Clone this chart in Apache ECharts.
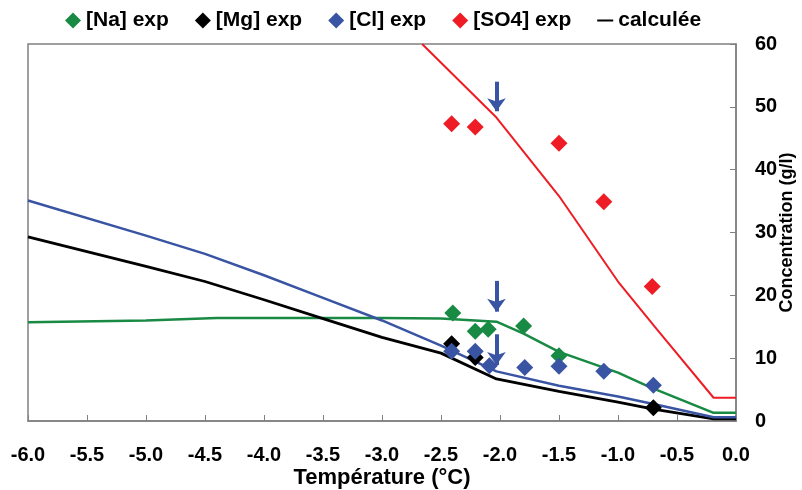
<!DOCTYPE html>
<html>
<head>
<meta charset="utf-8">
<script src="https://cdn.jsdelivr.net/npm/echarts@6.0.0/dist/echarts.min.js"></script>
<style>
  html, body { margin: 0; padding: 0; background: #fff; }
  #main { width: 802px; height: 490px; }
</style>
</head>
<body>
<div id="main"></div>
<script>
// points expérimentaux
const naT = [-2.40, -2.21, -2.10, -1.80, -1.50]
const naC = [17.2, 14.3, 14.6, 15.1, 10.4]
const mgT = [-2.41, -2.21, -0.70]
const mgC = [12.3, 10.1, 2.1]
const clT = [-2.41, -2.21, -2.09, -1.79, -1.50, -1.12, -0.70]
const clC = [11.1, 11.1, 8.8, 8.5, 8.7, 7.9, 5.7]
const so4T = [-2.41, -2.21, -1.50, -1.12, -0.71]
const so4C = [47.3, 46.8, 44.2, 34.9, 21.4]

// courbes calculées
const naCalcT = [-6, -5, -4.4, -3.5, -3, -2.5, -2.03, -1.8, -1.5, -1.0, -0.73, -0.19, 0]
const naCalcC = [15.7, 16.0, 16.4, 16.4, 16.4, 16.3, 15.8, 13.9, 11.0, 7.7, 5.4, 1.3, 1.3]
const clCalcT = [-6, -5, -4.5, -4, -3.5, -3, -2.5, -2.03, -1.5, -1.0, -0.7, -0.19, 0]
const clCalcC = [35.1, 29.5, 26.6, 23.2, 19.6, 16.0, 12.0, 7.9, 5.6, 3.9, 2.7, 0.6, 0.6]
const mgCalcT = [-6, -5, -4.5, -4, -3.5, -3, -2.5, -2.03, -1.5, -1.0, -0.7, -0.19, 0]
const mgCalcC = [29.3, 24.6, 22.2, 19.3, 16.3, 13.3, 10.8, 6.7, 4.7, 3.0, 1.9, 0.35, 0.35]
const so4CalcT = [-2.66, -2.03, -1.5, -1.0, -0.67, -0.19, 0]
const so4CalcC = [60, 48.3, 35.8, 22.2, 14.6, 3.7, 3.7]

// flèches (T, haut, bas)
const arrowT = -2.03
const arrowTop = [54.0, 22.3, 13.8]
const arrowTip = [48.3, 16.4, 7.9]

const GREEN = '#188a44', RED = '#ee1d25', BLUE = '#3a54a4', BLACK = '#000000'
const FONT = "'Liberation Sans', Arial, sans-serif"

const pairs = (xs, ys) => xs.map((x, i) => [x, ys[i]])

const chart = echarts.init(document.getElementById('main'))

const arrows = arrowTop.map((top, i) => [
  { coord: [arrowT, top] },
  { coord: [arrowT, arrowTip[i] + 1.0] }
])

const lineSeries = (name, xs, ys, color, width) => ({
  name: name,
  type: 'line',
  data: pairs(xs, ys),
  symbol: 'none',
  lineStyle: { color: color, width: width },
  itemStyle: { color: color },
  z: 2,
  animation: false
})

const scatterSeries = (name, xs, ys, color) => ({
  name: name,
  type: 'scatter',
  data: pairs(xs, ys),
  symbol: 'diamond',
  symbolSize: 17,
  itemStyle: { color: color, opacity: 1 },
  z: 5,
  animation: false
})

const mgLine = lineSeries('calculée', mgCalcT, mgCalcC, BLACK, 2.8)
mgLine.markLine = {
  silent: true,
  symbol: ['none', 'arrow'],
  symbolSize: [14, 13],
  label: { show: false },
  lineStyle: { color: BLUE, width: 4, type: 'solid', opacity: 1 },
  data: arrows,
  animation: false
}

const option = {
  animation: false,
  backgroundColor: '#fff',
  textStyle: { fontFamily: FONT },
  legend: {
    left: 60,
    top: 5,
    itemGap: 26,
    itemWidth: 16,
    itemHeight: 16,
    textStyle: { fontFamily: FONT, fontWeight: 'bold', fontSize: 21, color: '#000' },
    data: [
      { name: '[Na] exp', icon: 'diamond' },
      { name: '[Mg] exp', icon: 'diamond' },
      { name: '[Cl] exp', icon: 'diamond' },
      { name: '[SO4] exp', icon: 'diamond' },
      { name: 'calculée', icon: 'path://M0,0 L24,0 L24,3 L0,3 Z' }
    ]
  },
  grid: {
    left: 28, right: 66, top: 44, bottom: 69,
    outerBoundsMode: 'none',
    containLabel: false,
    show: true, borderColor: '#808080', borderWidth: 1.5
  },
  xAxis: {
    type: 'value',
    min: -6, max: 0, interval: 0.5,
    name: 'Température (°C)',
    nameLocation: 'middle',
    nameGap: 46,
    nameMoveOverlap: false,
    nameTextStyle: { fontFamily: FONT, fontWeight: 'bold', fontSize: 22, color: '#000' },
    axisLine: { onZero: false, lineStyle: { color: '#808080', width: 1.5 } },
    axisTick: { inside: true, length: 6, lineStyle: { color: '#808080' } },
    axisLabel: {
      margin: 24,
      fontFamily: FONT, fontWeight: 'bold', fontSize: 20, color: '#000',
      formatter: v => v.toFixed(1)
    },
    splitLine: { show: false }
  },
  yAxis: {
    type: 'value',
    position: 'right',
    min: 0, max: 60, interval: 10,
    name: 'Concentration (g/l)',
    nameLocation: 'middle',
    nameRotate: 90,
    nameGap: 42,
    nameMoveOverlap: false,
    nameTextStyle: { fontFamily: FONT, fontWeight: 'bold', fontSize: 18, color: '#000' },
    axisLine: { show: true, lineStyle: { color: '#808080', width: 1.5 } },
    axisTick: { show: true, inside: true, length: 6, lineStyle: { color: '#808080' } },
    axisLabel: {
      margin: 19,
      fontFamily: FONT, fontWeight: 'bold', fontSize: 20, color: '#000'
    },
    splitLine: { show: false }
  },
  series: [
    lineSeries('Na calc', naCalcT, naCalcC, GREEN, 2.5),
    mgLine,
    lineSeries('Cl calc', clCalcT, clCalcC, BLUE, 2.5),
    lineSeries('SO4 calc', so4CalcT, so4CalcC, RED, 2),
    scatterSeries('[Na] exp', naT, naC, GREEN),
    scatterSeries('[Mg] exp', mgT, mgC, BLACK),
    scatterSeries('[Cl] exp', clT, clC, BLUE),
    scatterSeries('[SO4] exp', so4T, so4C, RED)
  ]
}

chart.setOption(option)
</script>
</body>
</html>
